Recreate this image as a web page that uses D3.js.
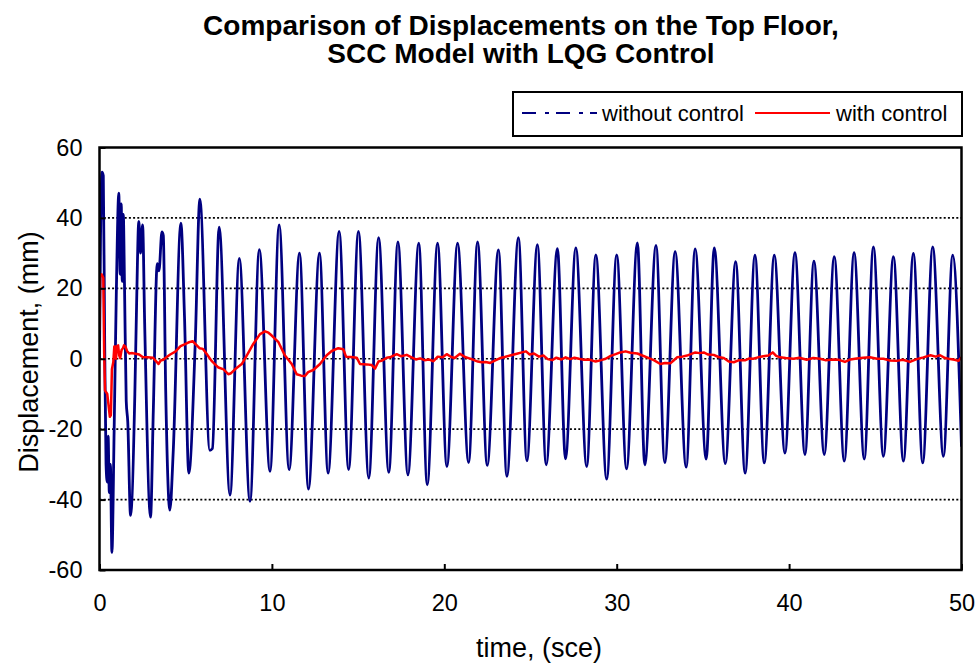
<!DOCTYPE html>
<html>
<head>
<meta charset="utf-8">
<script src="https://cdn.jsdelivr.net/npm/d3@7"></script>
<style>
html,body{margin:0;padding:0;background:#fff;}
svg{display:block;font-family:"Liberation Sans",Arial,sans-serif;}
</style>
</head>
<body>
<svg id="chart" width="979" height="664"></svg>
<script>
// ---------- DATA ----------
const titleLines = ["Comparison of Displacements on the Top Floor,", "SCC Model with LQG Control"];
const xLabel = "time, (sce)";
const yLabel = "Displacement, (mm)";
const xTicks = [0, 10, 20, 30, 40, 50];
const yTicks = [-60, -40, -20, 0, 20, 40, 60];
const gridValues = [-40, -20, 0, 20, 40];
const seriesNames = ["without control", "with control"];

// without control: turning points (time s, displacement mm)
const blueT = [0.00,0.06,0.15,0.22,0.30,0.38,0.45,0.50,0.57,0.63,0.72,0.85,0.98,1.12,1.20,1.26,1.32,1.38,1.45,1.55,1.64,1.80,2.05,2.15,2.28,2.38,2.50,2.62,2.96,3.12,3.35,3.45,3.62,3.70,3.84,4.08,4.28,4.72,4.93,5.18,5.55,5.82,6.40,6.55,6.94,7.57,8.11,8.73,9.27,9.89,10.42,11.00,11.60,12.12,12.76,13.26,13.90,14.45,15.02,15.62,16.19,16.78,17.31,17.89,18.52,19.01,19.61,20.15,20.77,21.41,21.93,22.49,23.14,23.63,24.30,24.79,25.40,25.91,26.56,27.03,27.63,28.26,28.79,29.42,30.00,30.57,31.20,31.63,32.28,32.79,33.39,34.03,34.55,35.19,35.66,36.30,36.90,37.45,38.02,38.56,39.14,39.76,40.34,40.92,41.44,42.04,42.62,43.20,43.77,44.36,44.89,45.47,46.05,46.63,47.21,47.75,48.33,48.95,49.49,50.00];
const blueV = [0,35,53,52,5,-30,-35,-22,-38,-30,-55,-20,20,47,24,44,22,41,21,-12,-18,-44.5,-10,15,39,30,38,10,-45,-15,27,25,36,35,-9,-43,-26,38.5,12,-32.5,4,45.3,-26,-25.5,37.4,-38.7,28.5,-40.5,31,-32,38,-31.5,30,-37,30,-32.5,36.2,-31.5,36.2,-33.9,34.4,-32.3,33.2,-33,32.8,-35.8,32.8,-30.6,32.8,-29.5,33.2,-30.3,30.9,-33.4,34.4,-29,32.4,-30.1,31.3,-28.4,31.5,-30.6,29.5,-34.2,29.5,-31.3,32.9,-30.1,32.2,-29.5,30.4,-30.8,31.2,-28.5,31.5,-29.8,27.6,-32.5,29.4,-29.6,29.4,-26.8,30.1,-27.2,27.7,-27.2,29,-29.1,30.1,-28.5,31.8,-27.7,29,-29.1,29.9,-29.6,31.8,-27.7,29.4,-25];

// with control (time s, displacement mm)
const redT = [0.00,0.04,0.12,0.22,0.27,0.32,0.45,0.52,0.60,0.66,0.72,0.80,0.86,0.92,0.96,1.00,1.08,1.14,1.20,1.28,1.36,1.42,1.50,1.60,1.72,1.90,2.10,2.30,2.50,2.80,3.10,3.30,3.42,3.55,3.70,3.90,4.10,4.40,4.70,4.90,5.15,5.40,5.60,5.80,6.00,6.20,6.50,6.90,7.20,7.47,7.60,7.86,8.25,8.54,8.92,9.31,9.60,9.80,9.99,10.38,10.76,11.15,11.44,11.70,11.92,12.10,12.40,12.79,13.18,13.47,13.85,14.14,14.30,14.60,14.92,15.11,15.50,15.79,15.98,16.18,16.40,16.66,16.90,17.24,17.50,17.82,18.10,18.35,18.60,18.85,19.10,19.37,19.62,19.90,20.14,20.40,20.60,20.91,21.20,21.45,21.69,21.95,22.17,22.40,22.66,22.90,23.24,23.50,23.87,24.10,24.26,24.50,24.74,24.95,25.20,25.49,25.75,26.00,26.26,26.50,26.80,27.04,27.30,27.55,27.81,28.10,28.40,28.78,29.10,29.36,29.65,29.94,30.20,30.52,30.80,31.20,31.45,31.76,32.15,32.53,32.80,33.11,33.30,33.50,33.80,34.08,34.30,34.56,34.80,35.05,35.30,35.63,35.90,36.21,36.50,36.79,37.10,37.47,37.70,37.92,38.20,38.50,38.80,39.05,39.25,39.47,39.80,40.25,40.60,41.02,41.40,41.79,42.10,42.57,42.90,43.24,43.55,43.92,44.30,44.69,45.10,45.47,45.85,46.24,46.60,47.01,47.40,47.79,48.20,48.50,48.76,49.05,49.34,49.60,49.82,50.00];
const redV = [8,23.5,24,23,2,-9,-10,-13,-16.5,-16,-3,-1,3.5,3.5,0,3.5,3.8,1,0.2,2.5,3.0,3.8,3.5,2.2,1.5,1.6,1.4,1.2,0.5,0.4,0.3,-0.8,-1.5,-0.5,-0.3,0.5,1.2,2.0,3.6,4.0,4.6,5.0,4.0,3.0,2.8,1.5,-0.6,-2.5,-3.0,-4.4,-4.2,-3,-1.5,0.9,4.2,7,7.8,7.4,6.6,4.7,0.9,-1.5,-4.4,-4.8,-4.9,-3.8,-3.2,-1.5,1.0,2.2,3.0,2.7,0.6,0.5,0.3,-1.5,-1.6,-1.8,-2.8,-0.8,-0.5,0.3,0.5,1.3,0.7,1.1,0.4,-0.2,0.1,-0.4,-0.2,-0.7,0.6,0.4,1.3,0.5,0.2,1.4,0.5,0.1,-0.3,-0.8,-1.0,-0.9,-1.2,-0.6,0.2,0.5,1.0,1.3,1.5,1.8,2.1,1.2,1.5,0.6,0.9,-0.1,-0.4,0.3,-0.2,0.4,-0.1,0.3,0.0,-0.3,-0.2,-0.8,-0.4,0.0,0.8,1.3,1.8,2.1,1.7,1.5,1.0,0.4,-0.4,-1.5,-1.2,-1.3,-0.5,0.4,0.6,0.9,1.3,1.8,1.6,1.8,1.2,1.1,0.5,0.2,-0.8,-1.0,-0.4,-0.4,0.1,0.0,0.4,0.7,0.9,1.8,0.8,0.4,0.2,0.0,0.3,-0.3,0.2,0.0,-0.4,-0.2,-0.3,-0.9,-0.2,0.1,0.3,0.4,0.0,0.0,-0.5,-0.6,-0.3,-0.9,-0.1,0.4,1.0,0.6,1.0,0.2,-0.1,-0.3,-0.6,0.4];

// ---------- LAYOUT ----------
const svg = d3.select("#chart");
const plot = {left: 99.5, right: 961.5, top: 147.5, bottom: 570};
const x = d3.scaleLinear().domain([0, 50]).range([plot.left, plot.right]);
const y = d3.scaleLinear().domain([-60, 60]).range([plot.bottom, plot.top]);
const FONT = '"Liberation Sans", Arial, sans-serif';

svg.append("rect").attr("width", 979).attr("height", 664).attr("fill", "#fff");

// Title
svg.append("g").selectAll("text").data(titleLines).join("text")
  .attr("x", 521).attr("y", (d, i) => 35 + i * 28)
  .attr("text-anchor", "middle")
  .attr("font-size", 28).attr("font-weight", "bold").attr("fill", "#000")
  .text(d => d);

// Gridlines
svg.append("g").selectAll("line").data(gridValues).join("line")
  .attr("x1", plot.left).attr("x2", plot.right)
  .attr("y1", d => y(d)).attr("y2", d => y(d))
  .attr("stroke", "#000").attr("stroke-width", 1.6)
  .attr("stroke-dasharray", "2,2.2");

// Clip
svg.append("clipPath").attr("id", "clip").append("rect")
  .attr("x", plot.left).attr("y", plot.top)
  .attr("width", plot.right - plot.left).attr("height", plot.bottom - plot.top);

const blueData = blueT.map((t, i) => [t, blueV[i]]);
const redData = redT.map((t, i) => [t, redV[i]]);

const lineBlue = d3.line().x(d => x(d[0])).y(d => y(d[1])).curve(d3.curveMonotoneX);
const lineRed = d3.line().x(d => x(d[0])).y(d => y(d[1]));

const g = svg.append("g").attr("clip-path", "url(#clip)");
g.append("path").datum(blueData).attr("d", lineBlue)
  .attr("fill", "none").attr("stroke", "#000080").attr("stroke-width", 2.8)
  .attr("stroke-linejoin", "round");
g.append("path").datum(redData).attr("d", lineRed)
  .attr("fill", "none").attr("stroke", "#ff0000").attr("stroke-width", 2.5)
  .attr("stroke-linejoin", "round");

// Axes
const xAxis = d3.axisBottom(x).tickValues(xTicks).tickSizeInner(-6).tickSizeOuter(0).tickPadding(24).tickFormat(d3.format("d"));
const yAxis = d3.axisLeft(y).tickValues(yTicks).tickSizeInner(-6).tickSizeOuter(0).tickPadding(17).tickFormat(d => d < 0 ? "-" + Math.abs(d) : String(d));

const gx = svg.append("g").attr("transform", `translate(0,${plot.bottom})`).call(xAxis);
const gy = svg.append("g").attr("transform", `translate(${plot.left},0)`).call(yAxis);
[gx, gy].forEach(a => {
  a.select(".domain").remove();
  a.selectAll(".tick line").attr("stroke", "#000").attr("stroke-width", 2);
  a.selectAll(".tick text").attr("font-family", FONT).attr("font-size", 23.5).attr("fill", "#000");
});

// Frame
svg.append("rect")
  .attr("x", plot.left).attr("y", plot.top)
  .attr("width", plot.right - plot.left).attr("height", plot.bottom - plot.top)
  .attr("fill", "none").attr("stroke", "#000").attr("stroke-width", 2.5);

// Axis titles
svg.append("text").attr("x", 539).attr("y", 657)
  .attr("text-anchor", "middle").attr("font-size", 27).attr("fill", "#000").text(xLabel);
svg.append("text").attr("transform", `translate(38,352) rotate(-90)`)
  .attr("text-anchor", "middle").attr("font-size", 27).attr("fill", "#000").text(yLabel);

// Legend
const leg = svg.append("g");
leg.append("rect").attr("x", 513).attr("y", 92).attr("width", 449).attr("height", 44)
  .attr("fill", "#fff").attr("stroke", "#000").attr("stroke-width", 2);
const legItems = [
  {name: seriesNames[0], color: "#000080", dash: "14,9,4,7", x1: 522, x2: 597, tx: 602},
  {name: seriesNames[1], color: "#ff0000", dash: null, x1: 755, x2: 830, tx: 836}
];
legItems.forEach(it => {
  leg.append("line").attr("x1", it.x1).attr("x2", it.x2).attr("y1", 113).attr("y2", 113)
    .attr("stroke", it.color).attr("stroke-width", 2.2)
    .attr("stroke-dasharray", it.dash);
  leg.append("text").attr("x", it.tx).attr("y", 121).attr("font-size", 22)
    .attr("fill", "#000").text(it.name);
});
</script>
</body>
</html>
